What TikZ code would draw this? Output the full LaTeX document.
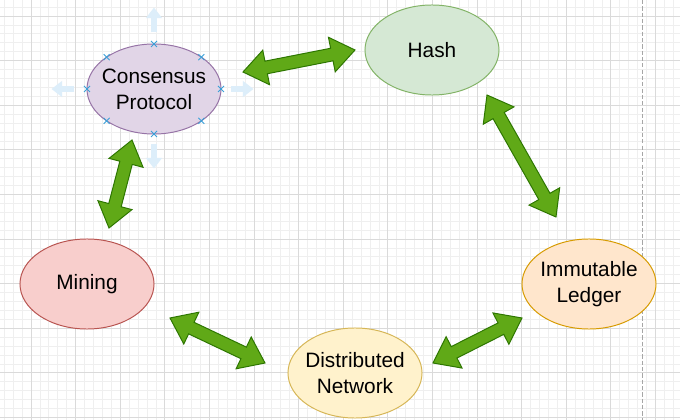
\documentclass[tikz,border=0pt]{standalone}
\usepackage{fontspec}
\setmainfont{Liberation Sans}
\usetikzlibrary{arrows.meta,calc,shapes.geometric}
\definecolor{cpfill}{HTML}{E1D5E7}   \definecolor{cpline}{HTML}{9673A6}
\definecolor{hashfill}{HTML}{D5E8D4} \definecolor{hashline}{HTML}{82B366}
\definecolor{minefill}{HTML}{F8CECC} \definecolor{mineline}{HTML}{B85450}
\definecolor{ledgfill}{HTML}{FFE6CC} \definecolor{ledgline}{HTML}{D79B00}
\definecolor{netfill}{HTML}{FFF2CC}  \definecolor{netline}{HTML}{D6B656}
\definecolor{arrfill}{HTML}{60A917}  \definecolor{arrline}{HTML}{2D7600}
\definecolor{selblue}{HTML}{3AA0D8}  \definecolor{hoverblue}{HTML}{DDEEFA}
\definecolor{gridminor}{HTML}{EFEFEF} \definecolor{gridmajor}{HTML}{DADADA}
\tikzset{
  cell/.style 2 args = {ellipse,fill=#1,draw=#2,line width=0.7pt,
                        minimum width=3.35cm,minimum height=2.25cm,inner sep=0pt},
  celltext/.style    = {align=center,font=\fontsize{14.8}{18.5}\selectfont},
  flexarr/.style     = {fill=arrfill,draw=arrline,line width=0.7pt,line join=miter},
  hoverarr/.style    = {-{Triangle[length=7.5pt,width=11pt]},line width=4.8pt,hoverblue},
  selmark/.style     = {selblue,line width=0.6pt},
  minorgrid/.style   = {gridminor,line width=0.5pt},
  majorgrid/.style   = {gridmajor,line width=0.6pt},
  pageline/.style    = {gray!70,line width=0.7pt,dash pattern=on 3pt off 1.5pt}
}
\newcommand{\headlen}{0.59cm}
\newcommand{\headw}{0.44cm}
\newcommand{\shaftw}{0.16cm}
% double block arrow between two named points
\newcommand{\blockarrow}[2]{%
  \coordinate (fa1) at ($(#1)!\headlen!(#2)$);
  \coordinate (fa2) at ($(#2)!\headlen!(#1)$);
  \filldraw[flexarr] (#1)
    -- ($(fa1)!\headw!90:(#2)$)  -- ($(fa1)!\shaftw!90:(#2)$)
    -- ($(fa2)!\shaftw!-90:(#1)$) -- ($(fa2)!\headw!-90:(#1)$)
    -- (#2)
    -- ($(fa2)!\headw!90:(#1)$)  -- ($(fa2)!\shaftw!90:(#1)$)
    -- ($(fa1)!\shaftw!-90:(#2)$) -- ($(fa1)!\headw!-90:(#2)$)
    -- cycle;
}

\begin{document}
\begin{tikzpicture}[x=0.025cm,y=-0.025cm]
  \useasboundingbox[fill=white] (0,0) rectangle (680,420);
  % background grid
  \foreach \i in {-3,...,72}
    \draw[minorgrid] ({31+8.92*\i},0) -- ({31+8.92*\i},420);
  \foreach \j in {-1,...,45}
    \draw[minorgrid] (0,{16+8.92*\j}) -- (680,{16+8.92*\j});
  \foreach \i in {0,...,14}
    \draw[majorgrid] ({31+44.6*\i},0) -- ({31+44.6*\i},420);
  \foreach \j in {0,...,9}
    \draw[majorgrid] (0,{16+44.6*\j}) -- (680,{16+44.6*\j});
  \draw[pageline] (642,0) -- (642,420);

  % cells
  \node[cell={cpfill}{cpline}]     (cp)     at (154,89)  {};
  \node[cell={hashfill}{hashline}] (hash)   at (432,50)  {};
  \node[cell={minefill}{mineline}] (mining) at (87,284)  {};
  \node[cell={ledgfill}{ledgline}] (ledger) at (589,284) {};
  \node[cell={netfill}{netline}]   (net)    at (355,373) {};
  \node[celltext] (cp-t)     at (cp)     {Consensus\\Protocol};
  \node[celltext] (hash-t)   at (hash)   {Hash};
  \node[celltext] (mining-t) at (mining) {Mining};
  \node[celltext] (ledger-t) at (ledger) {Immutable\\Ledger};
  \node[celltext] (net-t)    at (net)    {Distributed\\Network};

  % selection handles on the consensus cell
  \draw[hoverarr] ($(cp.north)+(0,-11)$) -- ++(0,-25);
  \draw[hoverarr] ($(cp.south)+(0,9)$)   -- ++(0,25);
  \draw[hoverarr] ($(cp.west)+(-12,0)$)  -- ++(-23,0);
  \draw[hoverarr] ($(cp.east)+(9,0)$)    -- ++(23,0);
  \foreach \a in {0,45,...,315}
    \draw[selmark] ($(cp)+({67*cos(\a)},{-45*sin(\a)})+(-3,-3)$) -- ++(6,6)
                   ($(cp)+({67*cos(\a)},{-45*sin(\a)})+(-3,3)$)  -- ++(6,-6);

  % connectors
  \coordinate (cp-e)     at (243,72);
  \coordinate (hash-w)   at (355,50);
  \coordinate (hash-s)   at (487,95);
  \coordinate (ledger-n) at (556,217);
  \coordinate (ledger-w) at (522,318);
  \coordinate (net-e)    at (433,363);
  \coordinate (net-w)    at (265,363);
  \coordinate (mining-e) at (170,318);
  \coordinate (mining-n) at (109,228);
  \coordinate (cp-s)     at (132,140);
  \blockarrow{cp-e}{hash-w}
  \blockarrow{hash-s}{ledger-n}
  \blockarrow{ledger-w}{net-e}
  \blockarrow{net-w}{mining-e}
  \blockarrow{mining-n}{cp-s}
\end{tikzpicture}
\end{document}
